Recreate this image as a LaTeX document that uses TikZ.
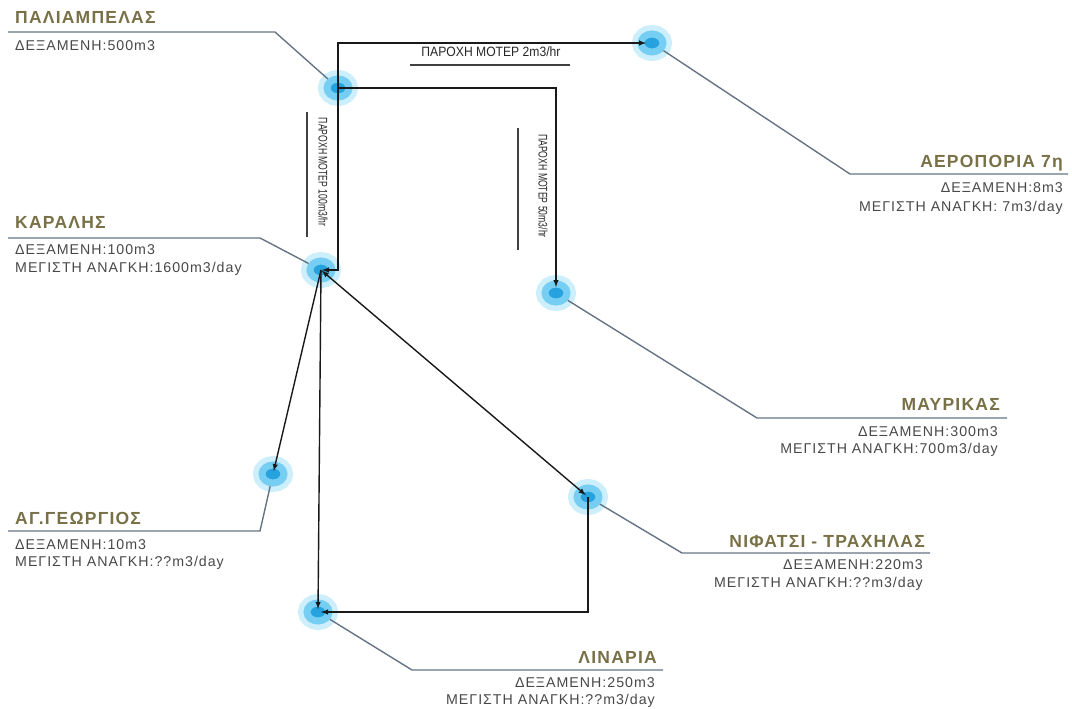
\documentclass[tikz,border=0pt]{standalone}
\usepackage{fontspec}
\setmainfont{Liberation Sans}
\usetikzlibrary{shapes.geometric}

\definecolor{tankblue}{RGB}{38,162,222}
\definecolor{tankring}{RGB}{118,206,243}
\definecolor{tankhalo}{RGB}{205,238,251}
\definecolor{sitecol}{RGB}{120,112,70}
\definecolor{infocol}{RGB}{72,72,72}
\definecolor{leadcol}{RGB}{100,116,132}

\begin{document}
\begin{tikzpicture}[x=1pt,y=-1pt]
  \tikzstyle{tank}=[ellipse,minimum width=22pt,minimum height=18pt,inner sep=0pt,fill=tankblue,draw=tankring,line width=7pt,preaction={draw=tankhalo,line width=18pt}]
  \tikzstyle{site}=[font=\bfseries\fontsize{17.5}{20}\selectfont\addfontfeature{LetterSpace=7},text=sitecol,inner sep=0pt]
  \tikzstyle{info}=[font=\fontsize{14.2}{16}\selectfont\addfontfeature{LetterSpace=7},text=infocol,inner sep=0pt]
  \tikzstyle{flow}=[font=\fontsize{12.5}{14}\selectfont\addfontfeature{FakeStretch=0.69},text=black!85,inner sep=0pt]
  \tikzstyle{flowwide}=[font=\fontsize{13.5}{15}\selectfont\addfontfeature{FakeStretch=0.9},text=black!85,inner sep=0pt]
  \tikzstyle{lead}=[draw=leadcol,line width=1.4pt]
  \tikzstyle{bar}=[draw=black!75,line width=1.3pt]
  \tikzstyle{pipe}=[draw=black!90,line width=1.4pt,-latex,shorten >=3pt]

    \useasboundingbox (0,0) rectangle (1072,709);

    \node[tank] (palia) at (338,88) {};
    \node[tank] (aero) at (652,43) {};
    \node[tank] (karalis) at (321,270) {};
    \node[tank] (mavr) at (556,293) {};
    \node[tank] (georg) at (273,474) {};
    \node[tank] (nif) at (588,497) {};
    \node[tank] (linaria) at (318,612) {};

    \coordinate (paliaK) at (275,32);   \coordinate (paliaE) at (8,32);
    \coordinate (aeroK) at (850,174);   \coordinate (aeroE) at (1068,174);
    \coordinate (karalisK) at (260,238); \coordinate (karalisE) at (8,238);
    \coordinate (mavrK) at (757,418);   \coordinate (mavrE) at (1007,418);
    \coordinate (georgK) at (260,531);  \coordinate (georgE) at (8,531);
    \coordinate (nifK) at (682,553);    \coordinate (nifE) at (930,553);
    \coordinate (linariaK) at (412,670); \coordinate (linariaE) at (663,670);

    \path[lead] (palia) -- (paliaK) -- (paliaE);
    \path[lead] (aero) -- (aeroK) -- (aeroE);
    \path[lead] (karalis) -- (karalisK) -- (karalisE);
    \path[lead] (mavr) -- (mavrK) -- (mavrE);
    \path[lead] (georg) -- (georgK) -- (georgE);
    \path[lead] (nif) -- (nifK) -- (nifE);
    \path[lead] (linaria) -- (linariaK) -- (linariaE);

    \node[site,anchor=base west] (paliaT) at (15,24) {ΠΑΛΙΑΜΠΕΛΑΣ};
    \node[info,anchor=base west] (paliaD) at (15,51) {ΔΕΞΑΜΕΝΗ:500m3};

    \node[site,anchor=base east] (aeroT) at (1063,167) {ΑΕΡΟΠΟΡΙΑ 7η};
    \node[info,anchor=base east] (aeroD) at (1063,192) {ΔΕΞΑΜΕΝΗ:8m3};
    \node[info,anchor=base east] (aeroM) at (1063,211) {ΜΕΓΙΣΤΗ ΑΝΑΓΚΗ: 7m3/day};

    \node[site,anchor=base west] (karalisT) at (15,228) {ΚΑΡΑΛΗΣ};
    \node[info,anchor=base west] (karalisD) at (15,254) {ΔΕΞΑΜΕΝΗ:100m3};
    \node[info,anchor=base west] (karalisM) at (15,272) {ΜΕΓΙΣΤΗ ΑΝΑΓΚΗ:1600m3/day};

    \node[site,anchor=base east] (mavrT) at (1000,410) {ΜΑΥΡΙΚΑΣ};
    \node[info,anchor=base east] (mavrD) at (998,436) {ΔΕΞΑΜΕΝΗ:300m3};
    \node[info,anchor=base east] (mavrM) at (998,453) {ΜΕΓΙΣΤΗ ΑΝΑΓΚΗ:700m3/day};

    \node[site,anchor=base west] (georgT) at (15,524) {ΑΓ.ΓΕΩΡΓΙΟΣ};
    \node[info,anchor=base west] (georgD) at (15,549) {ΔΕΞΑΜΕΝΗ:10m3};
    \node[info,anchor=base west] (georgM) at (15,566) {ΜΕΓΙΣΤΗ ΑΝΑΓΚΗ:??m3/day};

    \node[site,anchor=base east] (nifT) at (925,547) {ΝΙΦΑΤΣΙ - ΤΡΑΧΗΛΑΣ};
    \node[info,anchor=base east] (nifD) at (923,569) {ΔΕΞΑΜΕΝΗ:220m3};
    \node[info,anchor=base east] (nifM) at (923,587) {ΜΕΓΙΣΤΗ ΑΝΑΓΚΗ:??m3/day};

    \node[site,anchor=base east] (linariaT) at (657,663) {ΛΙΝΑΡΙΑ};
    \node[info,anchor=base east] (linariaD) at (655,687) {ΔΕΞΑΜΕΝΗ:250m3};
    \node[info,anchor=base east] (linariaM) at (655,704) {ΜΕΓΙΣΤΗ ΑΝΑΓΚΗ:??m3/day};

    \path[pipe,shorten >=6pt] (palia.center) -- (palia.center |- aero.center) -- (aero.center);
    \path[pipe,shorten >=1pt] (palia.center) -- (palia.center |- karalis.center) -- (karalis.center);
    \path[pipe,shorten >=6pt] (palia.center) -- (palia.center -| mavr.center) -- (mavr.center);
    \path[pipe] (karalis.center) -- (georg.center);
    \path[pipe,latex-latex,shorten <=1pt] (karalis.center) -- (nif.center);
    \path[pipe] (karalis.center) -- (linaria.center);
    \path[pipe] (nif.center) -- (nif.center |- linaria.center) -- (linaria.center);

    \node[flowwide] (q2) at (491,52) {ΠΑΡΟΧΗ ΜΟΤΕΡ 2m3/hr};
    \node[flow,rotate=-90] (q100) at (323,172) {ΠΑΡΟΧΗ ΜΟΤΕΡ 100m3/hr};
    \node[flow,rotate=-90] (q50) at (543,186) {ΠΑΡΟΧΗ ΜΟΤΕΡ 50m3/hr};
    \path[bar] (410,65) -- (570,65);
    \path[bar] (307,112) -- (307,237);
    \path[bar] (518,128) -- (518,250);
\end{tikzpicture}
\end{document}
